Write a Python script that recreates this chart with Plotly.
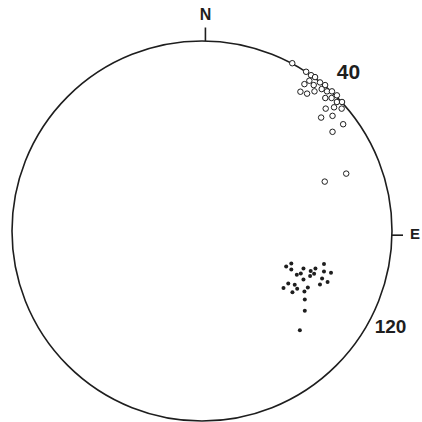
import plotly.graph_objects as go

# projected pole positions on the net, unit-circle coordinates (x east, y north)
open_x = [0.475, 0.548, 0.574, 0.595, 0.565, 0.539, 0.588, 0.621, 0.648, 0.630,
          0.658, 0.684, 0.518, 0.553, 0.592, 0.710, 0.682, 0.649, 0.710, 0.737,
          0.695, 0.651, 0.735, 0.627, 0.687, 0.743, 0.687, 0.759, 0.646]
open_y = [0.883, 0.838, 0.820, 0.810, 0.791, 0.773, 0.768, 0.782, 0.768, 0.747,
          0.735, 0.735, 0.733, 0.723, 0.735, 0.714, 0.700, 0.700, 0.679, 0.679,
          0.651, 0.644, 0.644, 0.597, 0.606, 0.562, 0.522, 0.302, 0.260]

dot_x = [0.470, 0.443, 0.470, 0.534, 0.642, 0.597, 0.572, 0.642, 0.679, 0.520,
         0.499, 0.590, 0.569, 0.534, 0.632, 0.661, 0.621, 0.454, 0.488, 0.429,
         0.501, 0.557, 0.539, 0.476, 0.541, 0.541, 0.515]
dot_y = [-0.171, -0.187, -0.203, -0.197, -0.174, -0.197, -0.211, -0.213, -0.220, -0.224,
         -0.230, -0.225, -0.237, -0.255, -0.250, -0.269, -0.281, -0.276, -0.283, -0.300,
         -0.304, -0.297, -0.318, -0.323, -0.360, -0.420, -0.522]

labels = ["N", "E", "40", "120"]
label_x = [0.018, 1.121, 0.771, 0.992]
label_y = [1.132, -0.024, 0.826, -0.511]

ink = "#1e1e1e"

fig = go.Figure()

fig.add_shape(type="circle", x0=-1, y0=-1, x1=1, y1=1,
              line=dict(color=ink, width=1.6), layer="below")
# N and E ticks
fig.add_shape(type="line", x0=0.018, y0=1.0, x1=0.018, y1=1.071,
              line=dict(color=ink, width=1.6), layer="below")
fig.add_shape(type="line", x0=1.0, y0=-0.022, x1=1.058, y1=-0.022,
              line=dict(color=ink, width=1.6), layer="below")

fig.add_trace(go.Scatter(
    x=open_x, y=open_y, mode="markers",
    marker=dict(symbol="circle", size=5.5, color="white",
                line=dict(color=ink, width=1)),
    hoverinfo="skip",
))
fig.add_trace(go.Scatter(
    x=dot_x, y=dot_y, mode="markers",
    marker=dict(symbol="circle", size=4, color=ink, line_width=0),
    hoverinfo="skip",
))
fig.add_trace(go.Scatter(
    x=label_x, y=label_y, mode="text", text=labels,
    textfont=dict(family="Liberation Sans", size=[16, 15, 21, 19], color=ink,
                  weight="bold"),
    cliponaxis=False,
    hoverinfo="skip",
))

fig.update_xaxes(range=[-202 / 190, 220 / 190], visible=False)
fig.update_yaxes(range=[-191 / 190, 231 / 190], visible=False)
fig.update_layout(
    width=422, height=422,
    margin=dict(l=0, r=0, t=0, b=0),
    paper_bgcolor="white", plot_bgcolor="white",
    showlegend=False,
)

# drop the browser's default body margin so the figure fills the window
fig.write_html(
    "out.html",
    config={"displayModeBar": False},
    post_script="document.body.style.margin='0';document.body.style.overflow='hidden';",
)
